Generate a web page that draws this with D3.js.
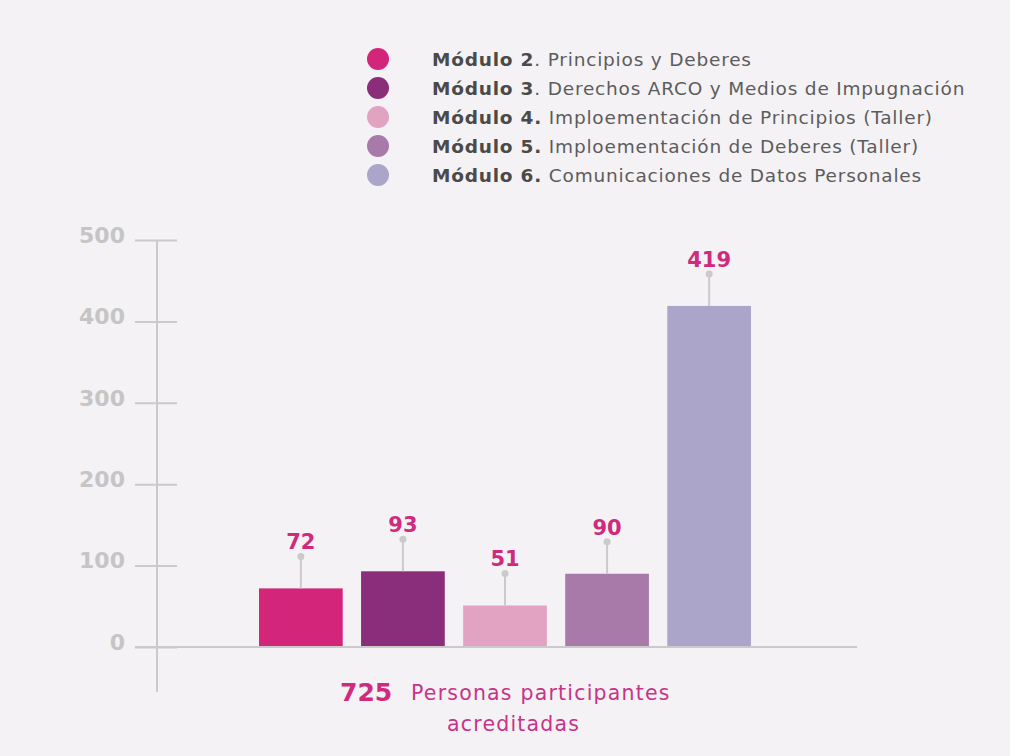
<!DOCTYPE html>
<html lang="es">
<head>
    <meta charset="UTF-8">
    <title>Personas participantes acreditadas por módulo</title>
    <script src="https://d3js.org/d3.v7.min.js"></script>
    <style>
        body {
            margin: 0;
            padding: 0;
            background-color: #f4f2f4;
        }

        svg {
            display: block;
            font-family: "DejaVu Sans", sans-serif;
        }
    </style>
</head>
<body>
    <svg id="chart" width="1010" height="756"></svg>

    <script>
        // chart data
        const boldLabels = ["Módulo 2", "Módulo 3", "Módulo 4.", "Módulo 5.", "Módulo 6."];
        const restLabels = [
            ". Principios y Deberes",
            ". Derechos ARCO y Medios de Impugnación",
            " Imploementación de Principios (Taller)",
            " Imploementación de Deberes (Taller)",
            " Comunicaciones de Datos Personales"
        ];
        const values = [72, 93, 51, 90, 419];
        const colors = ["#d3267b", "#8a2d7b", "#e2a2c2", "#a87aaa", "#aaa5c9"];
        const yTicks = [0, 100, 200, 300, 400, 500];
        const total = 725;
        const totalLabel = ["Personas participantes", "acreditadas"];

        const svg = d3.select("#chart");
        const gray = "#cbcacb";
        const pink = "#cf2a7d";

        const x = d3.scaleBand()
            .domain(boldLabels)
            .range([259, 751])
            .paddingInner(0.18)
            .paddingOuter(0);

        const y = d3.scaleLinear()
            .domain([0, 500])
            .range([647, 240]);

        // y axis: ticks cross the vertical line
        const yAxis = d3.axisLeft(y)
            .tickValues(yTicks)
            .tickSize(42)
            .tickPadding(10);

        const axisG = svg.append("g")
            .attr("transform", "translate(177,0)")
            .call(yAxis)
            .attr("font-family", null);
        axisG.select(".domain").remove();
        axisG.selectAll(".tick line").attr("stroke", gray).attr("stroke-width", 2);
        axisG.selectAll(".tick text")
            .attr("fill", "#c6c5c6")
            .attr("font-size", 22)
            .attr("font-weight", "bold")
            .attr("dy", "0.1em");

        svg.append("line")
            .attr("x1", 157).attr("x2", 157)
            .attr("y1", y(500)).attr("y2", 692)
            .attr("stroke", gray).attr("stroke-width", 2);

        // bars
        const bars = svg.append("g");
        bars.selectAll("rect")
            .data(values)
            .join("rect")
            .attr("x", (d, i) => x(boldLabels[i]))
            .attr("y", d => y(d))
            .attr("width", x.bandwidth())
            .attr("height", d => y(0) - y(d))
            .attr("fill", (d, i) => colors[i]);

        // baseline
        svg.append("line")
            .attr("x1", 135).attr("x2", 857)
            .attr("y1", y(0)).attr("y2", y(0))
            .attr("stroke", gray).attr("stroke-width", 2);

        // value pins and labels
        const cx = i => x(boldLabels[i]) + x.bandwidth() / 2;
        const pins = svg.append("g").selectAll("g")
            .data(values)
            .join("g");
        pins.append("line")
            .attr("x1", (d, i) => cx(i)).attr("x2", (d, i) => cx(i))
            .attr("y1", d => y(d)).attr("y2", d => y(d) - 32)
            .attr("stroke", gray).attr("stroke-width", 2);
        pins.append("circle")
            .attr("cx", (d, i) => cx(i))
            .attr("cy", d => y(d) - 32)
            .attr("r", 3.5)
            .attr("fill", gray);
        pins.append("text")
            .attr("x", (d, i) => cx(i))
            .attr("y", d => y(d) - 39)
            .attr("text-anchor", "middle")
            .attr("fill", pink)
            .attr("font-size", 21)
            .attr("font-weight", "bold")
            .text(d => d);

        // legend
        const legend = svg.append("g").selectAll("g")
            .data(boldLabels)
            .join("g")
            .attr("transform", (d, i) => `translate(378,${59 + i * 29})`);
        legend.append("circle")
            .attr("r", 11)
            .attr("fill", (d, i) => colors[i]);
        const lt = legend.append("text")
            .attr("x", 54)
            .attr("y", 6.5)
            .attr("font-size", 18.5)
            .attr("letter-spacing", 0.8);
        lt.append("tspan")
            .attr("font-weight", "bold")
            .attr("fill", "#4a4a4a")
            .text(d => d);
        lt.append("tspan")
            .attr("fill", "#5c5c5c")
            .text((d, i) => restLabels[i]);

        // total
        svg.append("text")
            .attr("x", 340).attr("y", 701)
            .attr("fill", pink)
            .attr("font-size", 25)
            .attr("font-weight", "bold")
            .text(total);
        svg.append("text")
            .attr("x", 411).attr("y", 700)
            .attr("fill", "#c8338a")
            .attr("font-size", 20.5)
            .attr("letter-spacing", 1.2)
            .text(totalLabel[0]);
        svg.append("text")
            .attr("x", 447).attr("y", 731)
            .attr("fill", "#c8338a")
            .attr("font-size", 20.5)
            .attr("letter-spacing", 1.2)
            .text(totalLabel[1]);
    </script>
</body>
</html>
